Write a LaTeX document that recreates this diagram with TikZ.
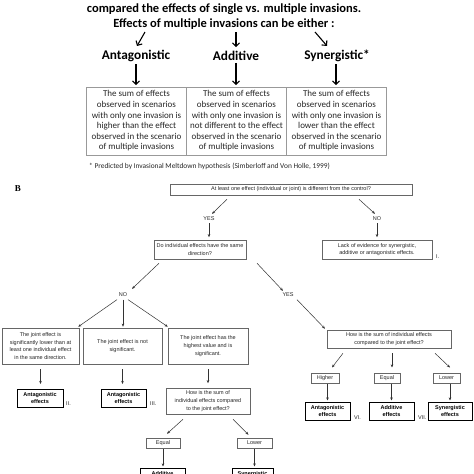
\documentclass[tikz,border=0pt]{standalone}
\usepackage{fontspec}
\setmainfont{Liberation Sans}
\newfontfamily\calfont{Carlito}
\newfontfamily\serfont{Liberation Serif}
\usetikzlibrary{arrows.meta,calc}
\begin{document}
\begin{tikzpicture}[x=1pt,y=-1pt,
  ttl/.style={inner sep=0pt, font=\calfont\bfseries\fontsize{12.5}{14}\selectfont},
  big/.style={inner sep=0pt, font=\calfont\bfseries\fontsize{13.3}{15}\selectfont},
  cell/.style={draw=black!40, line width=0.6pt, inner sep=0pt, align=center, minimum width=100pt, minimum height=68pt, font=\calfont\fontsize{9}{10.6}\selectfont, text=black!85},
  barr/.style={-{Straight Barb[length=3.5pt,width=7pt]}, line width=1.1pt},
  qbox/.style={draw=black!60, line width=0.5pt, inner sep=0pt, align=center, font=\fontsize{5.5}{7.7}\selectfont, text=black!85},
  rbox/.style={draw=black, line width=1pt, inner sep=0pt, align=center, minimum height=18pt, font=\bfseries\fontsize{5.5}{7}\selectfont},
  lab/.style={inner sep=0pt, font=\fontsize{5.5}{6}\selectfont, text=black!85},
  arr/.style={-{Stealth[length=3.2pt,width=2.6pt]}, line width=0.5pt, black!80}]
\useasboundingbox (0,0) rectangle (474,474);
\clip (0,0) rectangle (474,474);
\fill[white] (0,0) rectangle (474,474);

% ---------- Part A ----------
\node[ttl] (t1) at (224,9) {compared the effects of single vs. multiple invasions.};
\node[ttl] (t2) at (224,24) {Effects of multiple invasions can be either :};
\node[big] (antag) at (136,56) {Antagonistic};
\node[big] (addit) at (236,56) {Additive};
\node[big] (syner) at (337,56) {Synergistic*};
\coordinate (sa) at (145,32);
\coordinate (sb) at (236,32);
\coordinate (sc) at (315,32);
\draw[barr] (sa) -- ([shift={(1pt,4pt)}]antag.north);
\draw[barr] (sb) -- ([yshift=4pt]addit.north);
\draw[barr] (sc) -- ([shift={(-10pt,4pt)}]syner.north);

\node[cell] (ca) at (136.5,121) {The sum of effects\\observed in scenarios\\with only one invasion is\\higher than the effect\\observed in the scenario\\of multiple invasions};
\node[cell] (cb) at (236.5,121) {The sum of effects\\observed in scenarios\\with only one invasion is\\not different to the effect\\observed in the scenario\\of multiple invasions};
\node[cell] (cc) at (336.5,121) {The sum of effects\\observed in scenarios\\with only one invasion is\\lower than the effect\\observed in the scenario\\of multiple invasions};
\draw[barr, shorten <=2pt, shorten >=1.5pt] (antag.south) -- (antag.south |- ca.north);
\draw[barr, shorten <=2pt, shorten >=1.5pt] (addit.south) -- (addit.south |- cb.north);
\draw[barr, shorten <=2pt, shorten >=1.5pt] ([xshift=-1pt]syner.south) -- ([xshift=-1pt]syner.south |- cc.north);
\node[inner sep=0pt, anchor=west, font=\calfont\fontsize{7.4}{8}\selectfont, text=black!85] (fn) at (89,166) {* Predicted by Invasional Meltdown hypothesis (Simberloff and Von Holle, 1999)};

% ---------- Part B ----------
\node[inner sep=0pt, font=\serfont\bfseries\fontsize{9}{10}\selectfont] (bl) at (18,189) {B};

\node[qbox, minimum width=242pt, minimum height=11pt] (q1) at (291,189.5) {At least one effect (individual or joint) is different from the control?};
\node[lab] (yes1) at (209,219) {YES};
\node[lab] (no1) at (377,219) {NO};
\node[qbox, minimum width=92pt, minimum height=19pt] (q2) at (200,249.5) {Do individual effects have the same\\direction?};
\node[qbox, minimum width=110pt, minimum height=19pt] (lack) at (377,249.5) {Lack of evidence for synergistic,\\additive or antagonistic effects.};
\node[lab, anchor=west] (l1) at (436,257) {I.};

\draw[arr] ([shift={(-64pt,-4pt)}]q1.south) -- ([shift={(3pt,3pt)}]yes1.north);
\draw[arr] ([shift={(68pt,-4pt)}]q1.south) -- ([shift={(-2pt,3pt)}]no1.north);
\draw[arr, shorten <=2pt, shorten >=2.5pt] (yes1.south) -- (yes1.south |- q2.north);
\draw[arr, shorten <=2pt, shorten >=2.5pt] (no1.south) -- (no1.south |- lack.north);

\node[lab] (no2) at (123,295) {NO};
\node[lab] (yes2) at (288,295) {YES};
\draw[arr] ([shift={(-41pt,-4pt)}]q2.south) -- ([shift={(9pt,4pt)}]no2.north);
\draw[arr] ([shift={(57pt,-4pt)}]q2.south) -- ([shift={(-5pt,2pt)}]yes2.north);

\node[qbox, minimum width=77pt, minimum height=36pt] (ja) at (40.5,346) {The joint effect is\\significantly lower than at\\least one individual effect\\in the same direction.};
\node[qbox, minimum width=79pt, minimum height=36pt] (jb) at (122.5,346) {The joint effect is not\\significant.};
\node[qbox, minimum width=80pt, minimum height=36pt] (jc) at (208,346) {The joint effect has the\\highest value and is\\significant.};
\draw[arr] ([shift={(-6pt,-2.5pt)}]no2.south) -- ([shift={(-1pt,1pt)}]ja.north east);
\draw[arr, shorten <=2.5pt, shorten >=1pt] (no2.south) -- (no2.south |- jb.north);
\draw[arr] ([shift={(5pt,-2.5pt)}]no2.south) -- ([shift={(0pt,1pt)}]jc.north west);

\node[rbox, minimum width=46pt] (r2) at (40,398) {Antagonistic\\effects};
\node[lab, anchor=west] (l2) at (66,404) {II.};
\node[rbox, minimum width=45pt] (r3) at (123.5,398) {Antagonistic\\effects};
\node[lab, anchor=west] (l3) at (150,404) {III.};
\node[qbox, minimum width=84pt, minimum height=26pt] (hl) at (208,401) {How is the sum of\\individual effects compared\\to the joint effect?};
\draw[arr, shorten <=5pt, shorten >=4.5pt] (ja.south) -- (ja.south |- r2.north);
\draw[arr, shorten <=5pt, shorten >=4.5pt] (jb.south) -- (jb.south |- r3.north);
\draw[arr, shorten <=5pt, shorten >=4.5pt] (jc.south) -- (jc.south |- hl.north);

\node[qbox, minimum width=34pt, minimum height=10pt] (el) at (163,443) {Equal};
\node[qbox, minimum width=35pt, minimum height=10pt] (lw) at (254.5,443) {Lower};
\draw[arr] ([shift={(-25pt,-5pt)}]hl.south) -- ([shift={(4pt,4pt)}]el.north);
\draw[arr] ([shift={(25pt,-5pt)}]hl.south) -- ([shift={(-6pt,3pt)}]lw.north);
\node[rbox, minimum width=45pt] (al) at (162.5,477) {Additive\\effects};
\node[rbox, minimum width=41pt] (sl) at (252.5,477) {Synergistic\\effects};
\draw[arr, shorten <=1pt, shorten >=1pt] (el.south) -- (el.south |- al.north);
\draw[arr, shorten <=1pt, shorten >=1pt] (lw.south) -- (lw.south |- sl.north);

\node[qbox, minimum width=124pt, minimum height=18pt] (hr) at (389,339) {How is the sum of individual effects\\compared to the joint effect?};
\draw[arr] ([shift={(9pt,-2.5pt)}]yes2.south) -- ([shift={(-64pt,1pt)}]hr.north);
\node[qbox, minimum width=28pt, minimum height=10.5pt] (hi) at (325,378) {Higher};
\node[qbox, minimum width=26pt, minimum height=10.5pt] (eq) at (387,378) {Equal};
\node[qbox, minimum width=27pt, minimum height=10.5pt] (lo) at (446.5,378) {Lower};
\draw[arr] ([shift={(-46pt,-5pt)}]hr.south) -- ([shift={(7pt,5pt)}]hi.north);
\draw[arr] ([shift={(3pt,-5pt)}]hr.south) -- ([shift={(5pt,5pt)}]eq.north);
\draw[arr] ([shift={(46pt,-5pt)}]hr.south) -- ([shift={(3.5pt,5pt)}]lo.north);
\node[rbox, minimum width=45pt] (ar) at (327.5,411) {Antagonistic\\effects};
\node[lab, anchor=west] (l6) at (354,418) {VI.};
\node[rbox, minimum width=45pt] (adr) at (391.5,411) {Additive\\effects};
\node[lab, anchor=west] (l7) at (418,418) {VII.};
\node[rbox, minimum width=44pt] (sr) at (450,411) {Synergistic\\effects};
\draw[arr, shorten >=1pt] (ar.north |- hi.south) -- (ar.north);
\draw[arr, shorten >=1pt] (adr.north |- eq.south) -- (adr.north);
\draw[arr, shorten >=1pt] (sr.north |- lo.south) -- (sr.north);
\end{tikzpicture}
\end{document}
